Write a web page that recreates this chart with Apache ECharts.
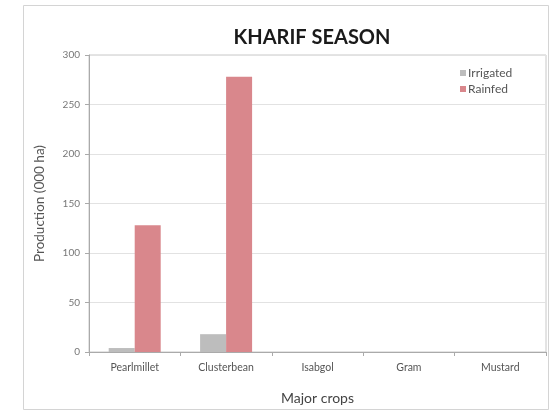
<!DOCTYPE html>
<html>
<head>
<meta charset="utf-8">
<script src="https://cdn.jsdelivr.net/npm/echarts@6/dist/echarts.min.js"></script>
<style>
  html, body { margin: 0; padding: 0; background: #fff; }
  #chart { width: 550px; height: 411px; }
</style>
</head>
<body>
<div id="chart"></div>
<script>
// Kharif season production by crop, irrigated vs rainfed (000 ha)
const crops = ['Pearlmillet', 'Clusterbean', 'Isabgol', 'Gram', 'Mustard'];
const irrigated = [4, 18, 0, 0, 0];
const rainfed = [128, 278, 0, 0, 0];
const yTicks = { min: 0, max: 300, step: 50 };

const chart = echarts.init(document.getElementById('chart'));
const font = 'Lato, "Open Sans", sans-serif';

chart.setOption({
  backgroundColor: '#ffffff',
  animation: false,
  textStyle: { fontFamily: font },
  graphic: [{
    type: 'rect',
    shape: { x: 23.5, y: 5.5, width: 525, height: 404 },
    style: { fill: 'none', stroke: '#d4d4d4', lineWidth: 1 },
    silent: true
  }],
  title: {
    text: 'KHARIF SEASON',
    left: 307, top: 23, textAlign: 'center',
    textStyle: { fontFamily: font, fontSize: 20, fontWeight: 'bold', color: '#1a1a1a' }
  },
  legend: {
    orient: 'vertical',
    left: 455, top: 62,
    itemWidth: 6, itemHeight: 6, itemGap: 4,
    icon: 'rect',
    textStyle: { fontFamily: font, fontSize: 12, color: '#555', padding: [0, 0, 0, -3] },
    data: ['Irrigated', 'Rainfed']
  },
  grid: {
    left: 89, right: 4, top: 55, bottom: 59,
    show: true, borderColor: '#c8c8c8', borderWidth: 1
  },
  xAxis: {
    type: 'category',
    data: crops,
    name: 'Major crops',
    nameLocation: 'middle',
    nameGap: 39,
    nameTextStyle: { fontFamily: font, fontSize: 14, color: '#444' },
    axisLine: { lineStyle: { color: '#aaaaaa' } },
    axisTick: { show: true, alignWithLabel: false, length: 4, lineStyle: { color: '#aaaaaa' } },
    axisLabel: { fontFamily: font, fontSize: 10.5, color: '#555', margin: 10 }
  },
  yAxis: {
    type: 'value',
    min: yTicks.min, max: yTicks.max, interval: yTicks.step,
    name: 'Production (000 ha)',
    nameLocation: 'middle',
    nameGap: 42,
    nameTextStyle: { fontFamily: font, fontSize: 13.5, color: '#555' },
    axisLine: { show: true, lineStyle: { color: '#aaaaaa' } },
    axisTick: { show: true, length: 4, lineStyle: { color: '#aaaaaa' } },
    axisLabel: { fontFamily: font, fontSize: 10, color: '#777', margin: 9 },
    splitLine: { lineStyle: { color: '#e2e2e2' } }
  },
  series: [
    {
      name: 'Irrigated', type: 'bar', data: irrigated,
      barWidth: 26, barGap: '0%',
      itemStyle: { color: '#bdbdbd' }
    },
    {
      name: 'Rainfed', type: 'bar', data: rainfed,
      barWidth: 26, barGap: '0%',
      itemStyle: { color: '#d9878c' }
    }
  ]
});
</script>
</body>
</html>
